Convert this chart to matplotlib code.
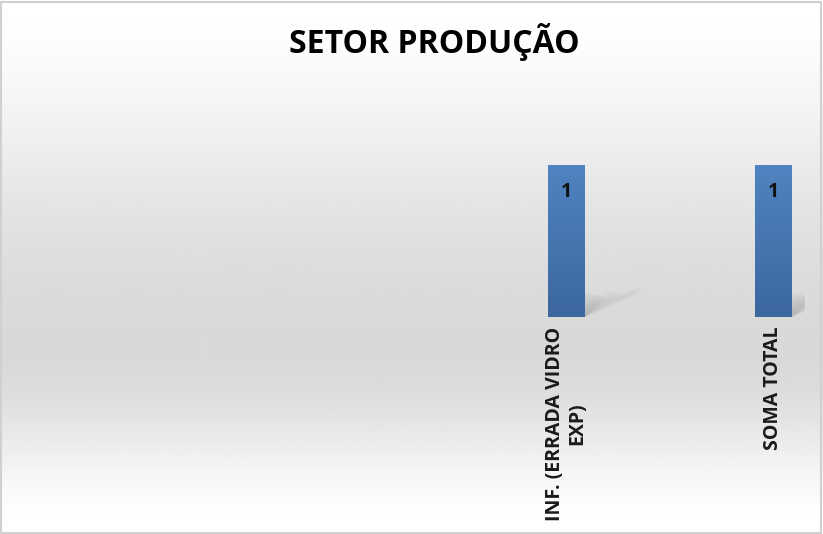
import matplotlib.pyplot as plt
import numpy as np
from matplotlib.colors import LinearSegmentedColormap

# data
categories = ["INF. (ERRADA VIDRO\nEXP)", "SOMA TOTAL"]
values = [1, 1]
title = "SETOR PRODUÇÃO"

W, H = 823, 534
fig = plt.figure(figsize=(W / 100, H / 100), dpi=100)

# background gradient: white at top and bottom, gray in the middle-low part
bg = fig.add_axes([0, 0, 1, 1], zorder=0)
bg.set_axis_off()
t = np.linspace(0, 1, 400)  # 0 = bottom
mid = 0.34
shade = np.where(t < mid, 1 - 0.15 * np.sin(np.pi / 2 * t / mid) ** 2,
                 1 - 0.15 * np.sin(np.pi / 2 * (1 - t) / (1 - mid)) ** 1.6)
img = np.repeat(shade[:, None], 2, axis=1)
bg.imshow(img, cmap="gray", vmin=0, vmax=1, aspect="auto", origin="lower",
          extent=[0, 1, 0, 1])
bg.set_xlim(0, 1)
bg.set_ylim(0, 1)
bg.add_patch(plt.Rectangle((0.001, 0.002), 0.997, 0.995, fill=False,
                           edgecolor="#d0d0d0", linewidth=1.5))

# plot area in pixels
left_px, right_px = 20, 805
top_px, bottom_px = 100, 317
ax = fig.add_axes([left_px / W, 1 - bottom_px / H,
                   (right_px - left_px) / W, (bottom_px - top_px) / H], zorder=1)
ax.patch.set_alpha(0)

slot = 207.0
x0_px = 566.5
x = np.arange(len(categories))
ax.set_xlim(-(x0_px - left_px) / slot,
            len(categories) - 1 + (right_px - (x0_px + slot * (len(categories) - 1))) / slot)
ax.set_ylim(0, (bottom_px - top_px) / 152.0)

bar_w = 37 / slot
bars = ax.bar(x, values, width=bar_w, color="#4a7ab5", zorder=2)

bar_cmap = LinearSegmentedColormap.from_list("bar", ["#3c679f", "#5083c1"])
grad = np.linspace(0, 1, 100)[:, None]
for b, v in zip(bars, values):
    bx, by = b.get_x(), b.get_y()
    bw, bh = b.get_width(), b.get_height()
    # soft shadow to the right of the bar bottom
    for k in range(8):
        sx = [bx + bw, bx + bw + 0.25 - k * 0.02, bx + bw + 0.28 - k * 0.02, bx + bw]
        sy = [0, 0.14 + k * 0.005, 0.2 - k * 0.01, 0.02 + k * 0.02]
        ax.fill(sx, sy, color="#505050", alpha=0.035, lw=0, zorder=1)
    im = ax.imshow(grad, cmap=bar_cmap, aspect="auto", origin="lower",
                   extent=[bx, bx + bw, by, by + bh], zorder=3)
    im.set_clip_path(b)
    ax.text(bx + bw / 2, by + bh - 0.11, f"{v}",
            ha="center", va="top", fontsize=14, fontweight="bold",
            family="Open Sans", color="#111111", zorder=4)

ax.set_xticks(x)
ax.set_xticklabels(categories, rotation=90, fontsize=14, fontweight="bold",
                   family="Open Sans", color="#1a1a1a", ha="center", va="top",
                   multialignment="center", linespacing=1.15)
ax.tick_params(axis="x", length=0, pad=7)
ax.set_yticks([])
for s in ax.spines.values():
    s.set_visible(False)

fig.text(0.5 * (1 + 0.055), 1 - 42 / H, title, ha="center", va="center",
         fontsize=23, fontweight="bold", family="Open Sans", color="#000000")

fig.savefig("out.png", dpi=100)
